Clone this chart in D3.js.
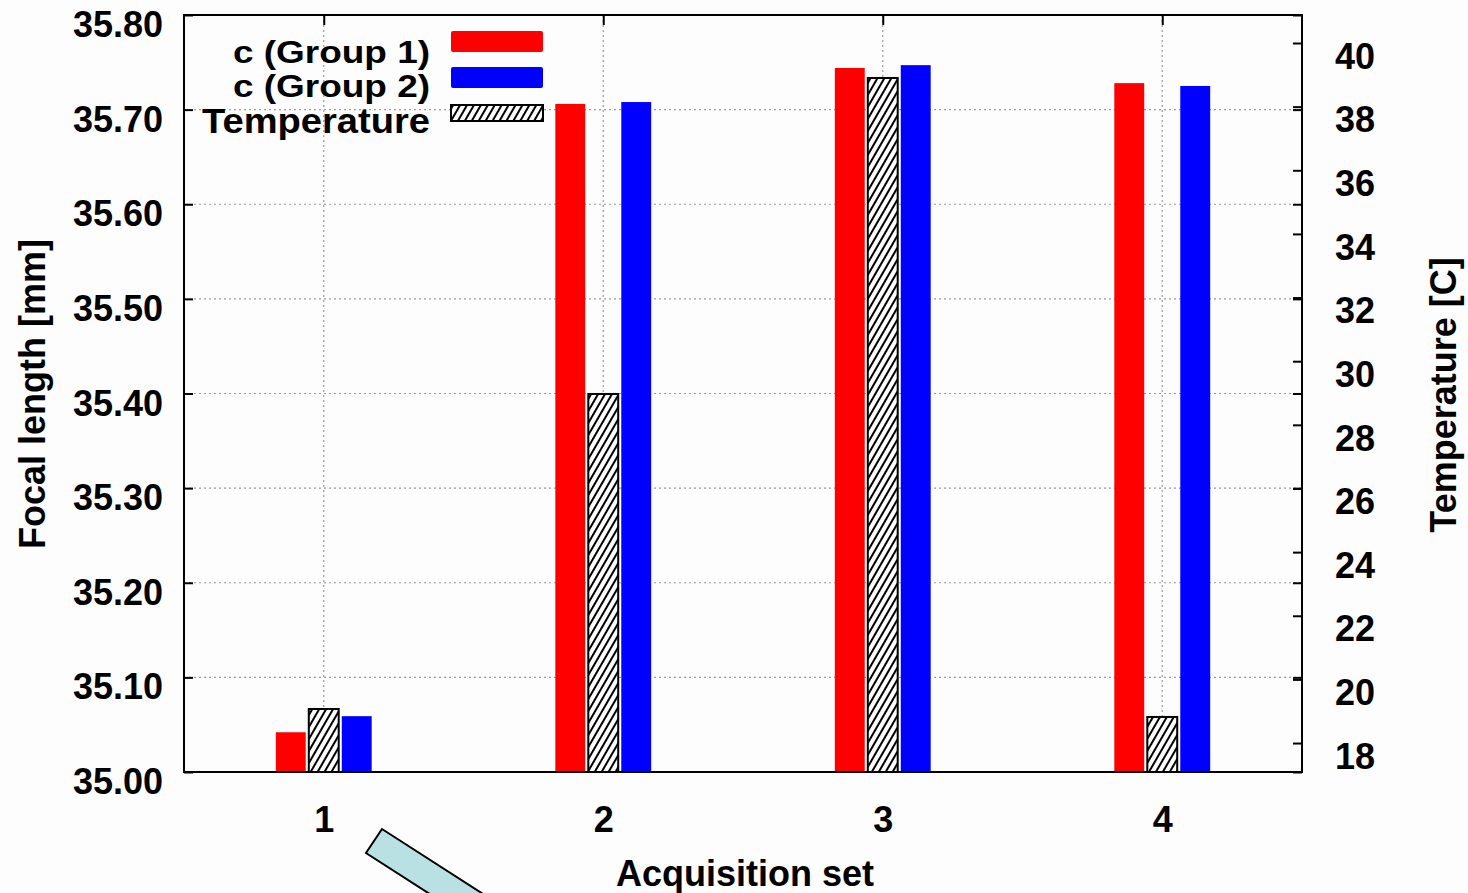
<!DOCTYPE html>
<html>
<head>
<meta charset="utf-8">
<script src="https://cdn.jsdelivr.net/npm/d3@7"></script>
<style>
  html, body { margin: 0; padding: 0; background: #fdfdfd; }
  svg { display: block; }
  text { font-family: "Liberation Sans", Arial, sans-serif; font-weight: bold; fill: #000; }
</style>
</head>
<body>
<svg id="chart" width="1468" height="893"></svg>
<script>
// Acquisition sets along the x axis
const categories = [1, 2, 3, 4];
// Focal length c per group [mm]
const group1 = [35.042, 35.706, 35.744, 35.728];
const group2 = [35.059, 35.708, 35.747, 35.725];
// Temperature during each acquisition [C]
const temperature = [19.07, 28.97, 38.9, 18.82];
// Axis ticks
const focalTicks = [35.00, 35.10, 35.20, 35.30, 35.40, 35.50, 35.60, 35.70, 35.80];
const tempTicks = [18, 20, 22, 24, 26, 28, 30, 32, 34, 36, 38, 40];
const legendLabels = ["c (Group 1)", "c (Group 2)", "Temperature"];

const svg = d3.select("#chart");
const plot = { left: 184, right: 1302, top: 15, bottom: 772 };

const x = d3.scaleLinear().domain([0.5, 4.5]).range([plot.left, plot.right]);
const y = d3.scaleLinear().domain([35.0, 35.8]).range([plot.bottom, plot.top]);
const yT = d3.scaleLinear().domain([17.09, 40.88]).range([plot.bottom, plot.top]);

// Hatch fill for temperature bars
const defs = svg.append("defs");
const pat = defs.append("pattern")
  .attr("id", "hatch")
  .attr("patternUnits", "userSpaceOnUse")
  .attr("width", 6).attr("height", 6)
  .attr("patternTransform", "rotate(30)");
pat.append("rect").attr("width", 6).attr("height", 6).attr("fill", "#ffffff");
pat.append("line").attr("x1", 1).attr("y1", 0).attr("x2", 1).attr("y2", 6)
  .attr("stroke", "#000").attr("stroke-width", 2);

// Dotted grid
const grid = svg.append("g").attr("stroke", "#9a9a9a").attr("stroke-width", 1.2)
  .attr("stroke-dasharray", "2,3");
grid.selectAll("line.h").data(focalTicks.slice(1, -1)).join("line")
  .attr("x1", plot.left).attr("x2", plot.right)
  .attr("y1", d => y(d)).attr("y2", d => y(d));
grid.selectAll("line.v").data(categories).join("line")
  .attr("x1", d => x(d)).attr("x2", d => x(d))
  .attr("y1", plot.top).attr("y2", plot.bottom);

// Bars: group 1 (red), temperature (hatched), group 2 (blue)
const off = 0.118, bw = 0.107;
const bars = svg.append("g");
bars.selectAll("rect.g1").data(categories).join("rect")
  .attr("x", (d, i) => x(d - off - bw / 2))
  .attr("width", x(bw) - x(0))
  .attr("y", (d, i) => y(group1[i]))
  .attr("height", (d, i) => y(35.0) - y(group1[i]))
  .attr("fill", "#ff0000");
bars.selectAll("rect.g2").data(categories).join("rect")
  .attr("x", (d, i) => x(d + off - bw / 2))
  .attr("width", x(bw) - x(0))
  .attr("y", (d, i) => y(group2[i]))
  .attr("height", (d, i) => y(35.0) - y(group2[i]))
  .attr("fill", "#0000ff");
bars.selectAll("rect.t").data(categories).join("rect")
  .attr("x", d => x(d - bw / 2))
  .attr("width", x(bw) - x(0))
  .attr("y", (d, i) => yT(temperature[i]))
  .attr("height", (d, i) => yT.range()[0] - yT(temperature[i]))
  .attr("fill", "url(#hatch)")
  .attr("stroke", "#000").attr("stroke-width", 2);

// Frame
svg.append("rect")
  .attr("x", plot.left).attr("y", plot.top)
  .attr("width", plot.right - plot.left).attr("height", plot.bottom - plot.top)
  .attr("fill", "none").attr("stroke", "#000").attr("stroke-width", 2);

// Left axis (focal length)
const leftAxis = svg.append("g").attr("transform", `translate(${plot.left},0)`)
  .call(d3.axisLeft(y).tickValues(focalTicks).tickFormat(d3.format(".2f"))
    .tickSize(-9).tickPadding(21));
// Mirror ticks on the right edge
const mirror = svg.append("g").attr("transform", `translate(${plot.right},0)`)
  .call(d3.axisRight(y).tickValues(focalTicks).tickFormat("").tickSize(-9));
// Right axis (temperature)
const rightAxis = svg.append("g").attr("transform", `translate(${plot.right},0)`)
  .call(d3.axisRight(yT).tickValues(tempTicks).tickSize(-9).tickPadding(33));
// Top ticks at each acquisition set
const topAxis = svg.append("g").attr("transform", `translate(0,${plot.top})`)
  .call(d3.axisTop(x).tickValues(categories).tickFormat("").tickSize(-10));
// Bottom category labels
const bottomAxis = svg.append("g").attr("transform", `translate(0,${plot.bottom})`)
  .call(d3.axisBottom(x).tickValues(categories).tickFormat(d3.format("d"))
    .tickSize(0).tickPadding(34));

[leftAxis, mirror, rightAxis, topAxis, bottomAxis].forEach(g => {
  g.select(".domain").remove();
  g.selectAll(".tick line").attr("stroke", "#000").attr("stroke-width", 2);
  g.selectAll("text").attr("font-size", 36).attr("font-family", "Liberation Sans, Arial, sans-serif")
    .attr("font-weight", "bold").attr("fill", "#000");
});
leftAxis.selectAll("text").attr("dy", "0.6em");
rightAxis.selectAll("text").attr("dy", "0.7em");
bottomAxis.selectAll("text").attr("dy", "0.71em");

// Axis titles
svg.append("text").attr("transform", "translate(45,394) rotate(-90)")
  .attr("text-anchor", "middle").attr("font-size", 36).text("Focal length [mm]");
svg.append("text").attr("transform", "translate(1456,395) rotate(-90)")
  .attr("text-anchor", "middle").attr("font-size", 36).text("Temperature [C]");
svg.append("text").attr("x", 745).attr("y", 886)
  .attr("text-anchor", "middle").attr("font-size", 36).text("Acquisition set");

// Legend
const legendRows = [
  { label: legendLabels[0], base: 63, sy: 0.86, len: 197, fill: "#ff0000", stroke: "none", ry: 31, rh: 21 },
  { label: legendLabels[1], base: 97, sy: 0.86, len: 197, fill: "#0000ff", stroke: "none", ry: 67, rh: 21 },
  { label: legendLabels[2], base: 133, sy: 0.97, len: 228, fill: "url(#hatch)", stroke: "#000", ry: 105, rh: 16 }
];
const legend = svg.append("g");
legendRows.forEach(r => {
  legend.append("text")
    .attr("transform", `translate(${430 - r.len},${r.base}) scale(1,${r.sy})`)
    .attr("font-size", 36)
    .attr("textLength", r.len).attr("lengthAdjust", "spacingAndGlyphs")
    .text(r.label);
  legend.append("rect")
    .attr("x", 451).attr("y", r.ry).attr("width", 92).attr("height", r.rh)
    .attr("rx", r.stroke === "none" ? 2 : 0)
    .attr("fill", r.fill).attr("stroke", r.stroke).attr("stroke-width", 2);
});

// Callout pointer at the lower left
const pointer = [[382, 829], [366, 853], [492, 934], [508, 910]];
svg.append("polygon")
  .attr("points", pointer.map(p => p.join(",")).join(" "))
  .attr("fill", "#b9e1e3").attr("stroke", "#000").attr("stroke-width", 2);
</script>
</body>
</html>
